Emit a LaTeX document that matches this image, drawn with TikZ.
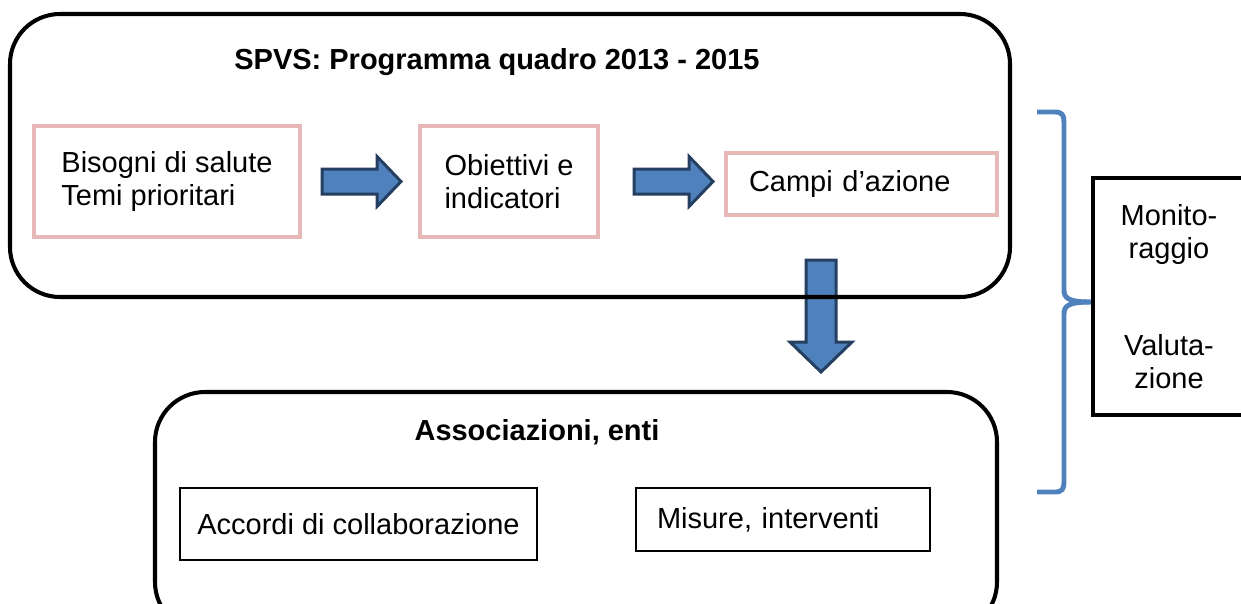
\documentclass[tikz,border=0pt]{standalone}
\usepackage{fontspec}
\setmainfont{Liberation Sans}
\usetikzlibrary{calc}
\definecolor{pinkline}{HTML}{E6B9B8}
\definecolor{arrowblue}{HTML}{4F81BD}
\definecolor{arrowdark}{HTML}{243F60}
\newcommand\diagfont{\fontsize{16.5pt}{18.5pt}\selectfont}
\def\px{0.02cm}
\newcommand\rightblock[1]{\draw[blockarrow] (#1) ++(0,-12.5) -- ++(55,0) -- ++(0,-12.5) -- ++(24,25) -- ++(-24,25) -- ++(0,-12.5) -- ++(-55,0) -- cycle;}
\newcommand\downblock[1]{\draw[blockarrow] (#1) ++(-15,0) -- ++(0,82) -- ++(-16,0) -- ++(31,30) -- ++(31,-30) -- ++(-16,0) -- ++(0,-82) -- cycle;}
\tikzset{
  every node/.style={font=\diagfont},
  bigbox/.style={draw=black, line width=2.3pt, rounded corners=1cm, inner sep=0pt},
  pinkbox/.style={draw=pinkline, line width=2.3pt, inner sep=0pt, align=left},
  plainbox/.style={draw=black, line width=1.1pt, inner sep=0pt, align=left},
  blockarrow/.style={fill=arrowblue, draw=arrowdark, line width=1.7pt, line join=miter},
  bracepath/.style={draw=arrowblue, line width=2.8pt}
}
\begin{document}
\begin{tikzpicture}[x=0.02cm, y=-0.02cm]
\clip (0,0) rectangle (1241,603);
\coordinate (down) at (821,260);
\downblock{down}
\node[bigbox, minimum width=1000*\px, minimum height=283*\px] (spvs) at (510,155.5) {};
\node[font=\diagfont\bfseries] (spvstitle) at (497,62) {SPVS: Programma quadro 2013 - 2015};
\node[pinkbox, minimum width=266*\px, minimum height=111*\px] (bisogni) at (167,181.5) {Bisogni di salute\\Temi prioritari};
\node[pinkbox, minimum width=178*\px, minimum height=111*\px] (obiettivi) at (509,181.5) {Obiettivi e\\indicatori};
\node[pinkbox, minimum width=271*\px, minimum height=62*\px, text width=4.5cm] (campi) at (861.5,184) {Campi d’azione};
\rightblock{$(bisogni.east)+(20,0)$}
\rightblock{$(obiettivi.east)+(34,0)$}
\node[bigbox, minimum width=842*\px, minimum height=240*\px] (assoc) at (576,512) {};
\node[font=\diagfont\bfseries] (assoctitle) at (537,432) {Associazioni, enti};
\node[plainbox, minimum width=357*\px, minimum height=72*\px] (accordi) at (358.5,524) {Accordi di collaborazione};
\node[plainbox, minimum width=294*\px, minimum height=63*\px, text width=5.04cm] (misure) at (783,519.5) {Misure, interventi};
\node[draw=black, line width=2.3pt, minimum width=152*\px, minimum height=237*\px, align=center, inner sep=0pt] (monval) at (1169,296.5) {Monito-\\raggio\\[2\baselineskip]Valuta-\\zione};
\coordinate (bracetip) at (monval.west);
\draw[bracepath] (1037,112) -- (1055,112) .. controls (1062,112) and (1064,115) .. (1064,122) -- (1064,290) .. controls (1064,298) and (1068,302) .. (bracetip |- 0,302);
\draw[bracepath] (1037,492) -- (1055,492) .. controls (1062,492) and (1064,489) .. (1064,482) -- (1064,314) .. controls (1064,306) and (1068,302) .. (bracetip |- 0,302);
\end{tikzpicture}
\end{document}
